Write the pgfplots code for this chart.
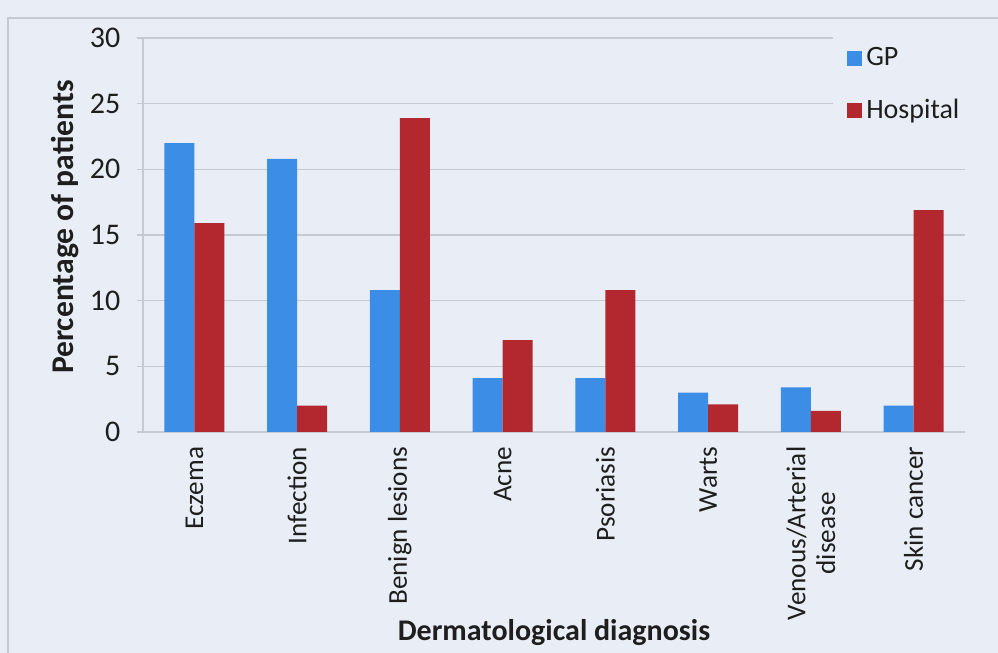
\documentclass[border=0pt]{standalone}
\usepackage{pgfplots}
\pgfplotsset{compat=1.18}
\usepackage{fontspec}
\setmainfont{Carlito}
\definecolor{bg}{HTML}{E9EEF6}
\definecolor{gpblue}{HTML}{3B8DE6}
\definecolor{hosred}{HTML}{B3282E}
\definecolor{gridc}{HTML}{C5CAD1}
\definecolor{txt}{HTML}{1E1E1E}
\begin{document}
\fontsize{12.5}{15}\selectfont
\begin{tikzpicture}[x=1pt,y=1pt]
\path[use as bounding box, fill=bg] (0,0) rectangle (499,326.5);
\draw[gridc, line width=0.6pt] (4,-5) rectangle (520,317.5);
\begin{axis}[
  at={(71.5pt,110.5pt)}, anchor=south west,
  scale only axis, width=411pt, height=197pt,
  ybar=0pt, bar width=15pt,
  ymin=0, ymax=30, ytick={0,5,...,30},
  xmin=-0.5, xmax=7.5, xtick={0,...,7},
  xticklabels={Eczema,Infection,Benign lesions,Acne,Psoriasis,Warts,{Venous/Arterial\\disease},Skin cancer},
  x tick label style={rotate=90, anchor=east, align=center, text=txt, font=\fontsize{13.6}{14.8}\selectfont},
  y tick label style={text=txt, font=\fontsize{15}{16}\selectfont, xshift=-4pt},
  /pgf/number format/assume math mode=true,
  xtick style={draw=none},
  extra x ticks={-0.5,0.5,...,7.5},
  extra x tick labels={},
  extra x tick style={tick style={draw=gridc, line width=0.6pt}, major tick length=4pt, tick align=outside, grid=none},
  ytick style={draw=gridc, line width=0.6pt},
  major tick length=3pt, tick align=outside,
  axis x line*=bottom, axis y line*=left,
  axis line style={gridc, line width=0.6pt},
  ymajorgrids, grid style={gridc, line width=0.6pt},
  xlabel={\bfseries Dermatological diagnosis},
  ylabel={\bfseries Percentage of patients},
  label style={text=txt},
  xlabel style={at={(axis description cs:0.5,-0.508)}, anchor=center, font=\fontsize{15}{17}\selectfont},
  ylabel style={at={(axis description cs:-0.095,0.52)}, anchor=center, font=\fontsize{15.8}{17}\selectfont},
  legend style={at={(0.839,1.012)}, anchor=north west, draw=none, fill=bg,
    legend cell align=left, row sep=10.5pt, inner xsep=7pt, inner ysep=5pt,
    font=\fontsize{14}{16}\selectfont, text=txt},
  legend image code/.code={\fill[#1] (0pt,-3.8pt) rectangle (7.6pt,3.8pt);},
  clip=false,
]
\addplot[fill=gpblue, draw=none] coordinates {(0,22.0) (1,20.8) (2,10.8) (3,4.1) (4,4.1) (5,3.0) (6,3.4) (7,2.0)};
\addplot[fill=hosred, draw=none] coordinates {(0,15.9) (1,2.0) (2,23.9) (3,7.0) (4,10.8) (5,2.1) (6,1.6) (7,16.9)};
\legend{GP,Hospital}
\end{axis}
\end{tikzpicture}
\end{document}
